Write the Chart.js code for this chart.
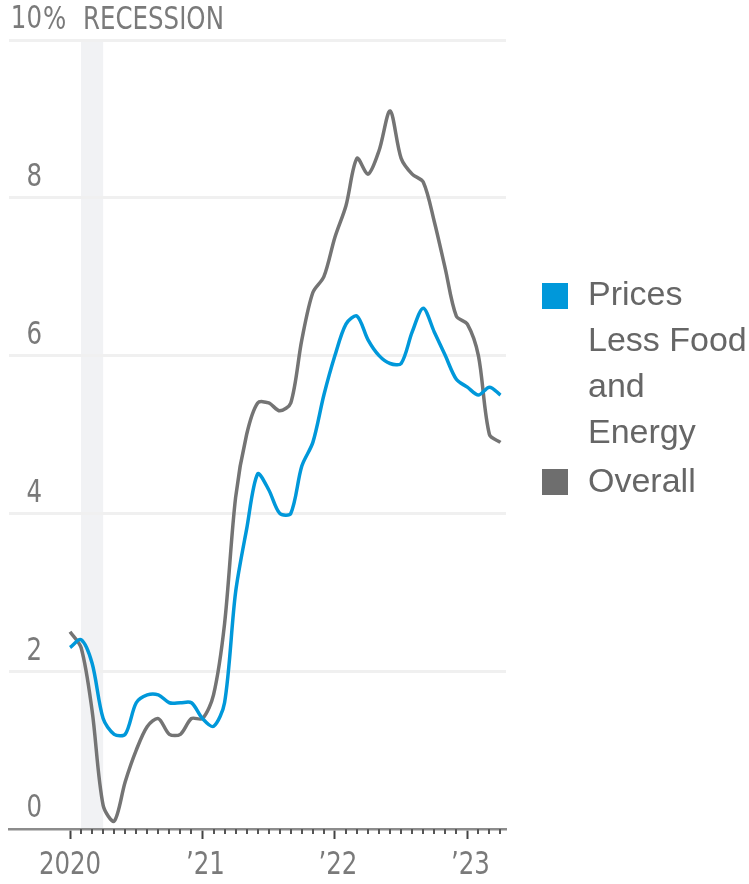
<!DOCTYPE html>
<html><head><meta charset="utf-8">
<script src="https://cdn.jsdelivr.net/npm/chart.js@4"></script>
<style>
html,body{margin:0;padding:0;background:#fff;}
#wrap{position:relative;width:749px;height:884px;overflow:hidden;}
#legend{position:absolute;left:542px;top:270px;font-family:"Liberation Sans",Arial,sans-serif;font-size:34px;line-height:46px;color:#666;white-space:nowrap;}
.item{position:relative;padding-left:46px;}
.item + .item{margin-top:3px;}
.sw{position:absolute;left:0;width:26px;height:26px;}
</style></head><body>
<div id="wrap"><canvas id="c" width="749" height="884"></canvas>
<div id="legend"></div></div>
<script>
const months = ["2020-01","2020-02","2020-03","2020-04","2020-05","2020-06","2020-07","2020-08","2020-09","2020-10","2020-11","2020-12",
"2021-01","2021-02","2021-03","2021-04","2021-05","2021-06","2021-07","2021-08","2021-09","2021-10","2021-11","2021-12",
"2022-01","2022-02","2022-03","2022-04","2022-05","2022-06","2022-07","2022-08","2022-09","2022-10","2022-11","2022-12",
"2023-01","2023-02","2023-03","2023-04"];
const overall = [2.5,2.3,1.5,0.3,0.1,0.6,1.0,1.3,1.4,1.2,1.2,1.4,
1.4,1.7,2.6,4.2,5.0,5.4,5.4,5.3,5.4,6.2,6.8,7.0,
7.5,7.9,8.5,8.3,8.6,9.1,8.5,8.3,8.2,7.7,7.1,6.5,
6.4,6.0,5.0,4.9];
const core = [2.3,2.4,2.1,1.4,1.2,1.2,1.6,1.7,1.7,1.6,1.6,1.6,
1.4,1.3,1.6,3.0,3.8,4.5,4.3,4.0,4.0,4.6,4.9,5.5,
6.0,6.4,6.5,6.2,6.0,5.9,5.9,6.3,6.6,6.3,6.0,5.7,
5.6,5.5,5.6,5.5];
const seriesNames = ["Prices\nLess Food\nand\nEnergy","Overall"];
const seriesColors = ["#0098da","#747474"];
const yTicks = [0,2,4,6,8,10];
const yearTickIdx = [0,12,24,36];
const yearLabels = ["2020","\u201921","\u201922","\u201923"];
const recession = [1,3];
const recessionLabel = "RECESSION";

const axisFont = '32px "DejaVu Sans Condensed","DejaVu Sans",sans-serif';
const squeeze = 0.85;
const tickColor = "#7a7a7a";

function squeezedText(ctx, text, x, y, align){
  ctx.save();
  ctx.translate(x, y);
  ctx.scale(squeeze, 1);
  ctx.textAlign = align;
  ctx.fillText(text, 0, 0);
  ctx.restore();
}

const extras = {
  id:'extras',
  beforeDraw(chart){
    const {ctx, chartArea:a, scales:{x}} = chart;
    ctx.save();
    ctx.fillStyle = "#f1f2f4";
    const x0 = x.getPixelForValue(recession[0]), x1 = x.getPixelForValue(recession[1]);
    ctx.fillRect(x0, a.top+2, x1-x0, a.bottom-a.top-2);
    ctx.restore();
  },
  afterDraw(chart){
    const {ctx, chartArea:a, scales:{x,y}} = chart;
    ctx.save();
    // monthly minor ticks
    ctx.strokeStyle = "#555"; ctx.lineWidth = 2;
    for (let i=0;i<months.length;i++){
      if (yearTickIdx.includes(i)) continue;
      const px = Math.round(x.getPixelForValue(i));
      ctx.beginPath(); ctx.moveTo(px, a.bottom); ctx.lineTo(px, a.bottom+5); ctx.stroke();
    }
    ctx.font = axisFont;
    ctx.fillStyle = tickColor;
    ctx.textBaseline = 'middle';
    // y labels, right aligned, sitting above grid lines
    yTicks.forEach(v=>{
      squeezedText(ctx, String(v), 42, y.getPixelForValue(v) - 20, 'right');
    });
    const ty = y.getPixelForValue(yTicks[yTicks.length-1]) - 19;
    squeezedText(ctx, '%', 43, ty, 'left');
    squeezedText(ctx, recessionLabel, x.getPixelForValue(recession[0]) + 2, ty, 'left');
    // x labels
    yearTickIdx.forEach((v,k)=>{
      squeezedText(ctx, yearLabels[k], x.getPixelForValue(v) + (k>0?3:0), 866, 'center');
    });
    ctx.restore();
  }
};

new Chart(document.getElementById('c'), {
  type:'line',
  data:{
    datasets:[
      {label:seriesNames[0], data:core.map((v,i)=>({x:i,y:v})), borderColor:seriesColors[0], borderWidth:3.5, pointRadius:0, tension:0.3, order:0},
      {label:seriesNames[1], data:overall.map((v,i)=>({x:i,y:v})), borderColor:seriesColors[1], borderWidth:3.5, pointRadius:0, tension:0.3, order:1}
    ]
  },
  options:{
    responsive:false, devicePixelRatio:1, animation:false,
    layout:{padding:{left:9,right:243,top:40,bottom:45}},
    plugins:{legend:{display:false}, tooltip:{enabled:false}},
    scales:{
      x:{type:'linear', min:-5.53, max:39.5,
        afterBuildTicks(s){ s.ticks = yearTickIdx.map(v=>({value:v})); },
        afterFit(s){ s.paddingLeft=0; s.paddingRight=0; s.height = 10; },
        grid:{drawOnChartArea:false, drawTicks:true, tickLength:10, tickColor:"#444", tickWidth:2},
        border:{display:true, color:"#8c8c8c", width:2.5},
        ticks:{display:false}
      },
      y:{min:0, max:10,
        afterBuildTicks(s){ s.ticks = yTicks.map(v=>({value:v})); },
        afterFit(s){ s.paddingTop=0; s.paddingBottom=0; s.width = 0; },
        grid:{drawTicks:false, lineWidth:3, color:(c)=> c.tick && c.tick.value===0 ? 'rgba(0,0,0,0)' : '#f0f0f0'},
        border:{display:false},
        ticks:{display:false}
      }
    }
  },
  plugins:[extras]
});

const leg = document.getElementById('legend');
seriesNames.forEach((n,i)=>{
  const d = document.createElement('div'); d.className='item';
  const sw = document.createElement('div'); sw.className='sw'; sw.style.background = i===0 ? '#0098da' : '#6e6e6e';
  sw.style.top = (i===0 ? 13 : 12) + 'px';
  d.appendChild(sw);
  n.split('\n').forEach(line=>{ const l=document.createElement('div'); l.textContent=line; d.appendChild(l); });
  leg.appendChild(d);
});
</script>
</body></html>
